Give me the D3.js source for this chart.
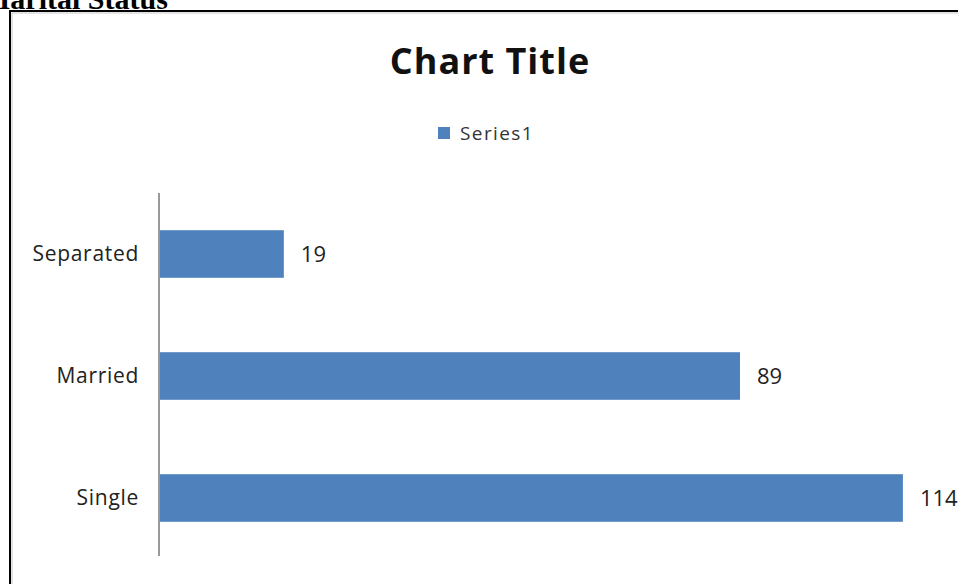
<!DOCTYPE html>
<html><head><meta charset="utf-8">
<script src="https://cdn.jsdelivr.net/npm/d3@7/dist/d3.min.js"></script>
<style>body{margin:0;background:#fff;overflow:hidden}</style>
</head><body>
<svg id="c" width="958" height="584"></svg>
<script>
const categories = ["Separated", "Married", "Single"];
const values = [19, 89, 114];
const seriesName = "Series1";
const chartTitle = "Chart Title";
const pageHeading = "Marital Status";

const svg = d3.select("#c");
const font = "'Open Sans', 'DejaVu Sans', sans-serif";

// page heading (partly cut off at top, as in reference)
svg.append("text").attr("x", -18).attr("y", 9)
  .attr("font-family", "'Liberation Serif', 'Times New Roman', serif")
  .attr("font-weight", "bold").attr("font-size", 30).attr("fill", "#000")
  .text(pageHeading);

// chart frame
svg.append("rect").attr("x", 10).attr("y", 11).attr("width", 960).attr("height", 600)
  .attr("fill", "#fff").attr("stroke", "#000").attr("stroke-width", 2);
svg.append("rect").attr("x", 12).attr("y", 13).attr("width", 960).attr("height", 600)
  .attr("fill", "none").attr("stroke", "#c8c8c8").attr("stroke-width", 1);

// title
svg.append("text").attr("x", 490).attr("y", 74).attr("text-anchor", "middle")
  .attr("font-family", font).attr("font-weight", "bold").attr("font-size", 36)
  .attr("letter-spacing", 1).attr("fill", "#111").text(chartTitle);

// legend
svg.append("rect").attr("x", 438).attr("y", 127).attr("width", 12).attr("height", 12)
  .attr("fill", "#4F81BD");
svg.append("text").attr("x", 460).attr("y", 140)
  .attr("font-family", font).attr("font-size", 19).attr("letter-spacing", 1.4)
  .attr("fill", "#333").text(seriesName);

const x = d3.scaleLinear().domain([0, 120]).range([160, 942]);
const y = d3.scaleBand().domain(categories).range([193, 559]).paddingInner(0.61).paddingOuter(0.305);

// bars
svg.selectAll("rect.bar").data(values).join("rect").attr("class", "bar")
  .attr("x", x(0)).attr("y", (d, i) => y(categories[i]))
  .attr("width", d => x(d) - x(0)).attr("height", y.bandwidth())
  .attr("fill", "#4F81BD");

// axis
const yAxis = d3.axisLeft(y).tickSize(0).tickPadding(20);
const g = svg.append("g").attr("transform", `translate(${x(0) - 1},0)`).call(yAxis);
g.select(".domain").attr("stroke", "#777").attr("stroke-width", 1.5).attr("d", "M0,193V556");
g.selectAll("text").attr("font-family", font).attr("font-size", 21)
  .attr("letter-spacing", 0.7).attr("fill", "#222");

// value labels
svg.selectAll("text.val").data(values).join("text").attr("class", "val")
  .attr("x", d => x(d) + 17).attr("y", (d, i) => y(categories[i]) + y.bandwidth() / 2)
  .attr("dy", "0.36em").attr("font-family", font).attr("font-size", 22)
  .attr("fill", "#222")
  .text(d => d);
</script>
</body></html>
